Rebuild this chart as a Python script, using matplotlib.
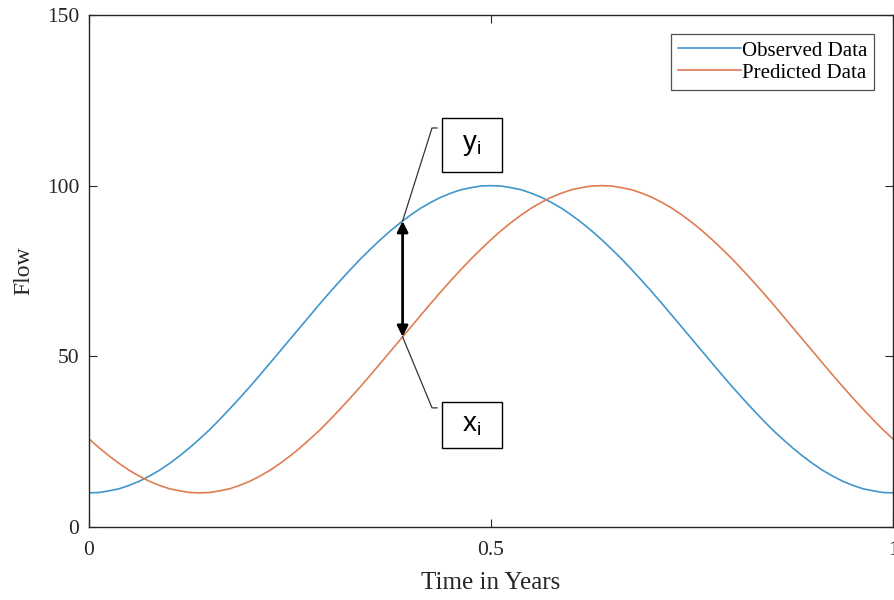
import numpy as np
import matplotlib.pyplot as plt
from matplotlib.patches import Rectangle

# Flow over one year, sampled every 0.0125 years
time_years = np.round(np.linspace(0, 1, 81), 4)
observed = [10.0, 10.1, 10.6, 11.2, 12.2, 13.4, 14.9, 16.6, 18.6, 20.8,
            23.2, 25.8, 28.5, 31.5, 34.6, 37.8, 41.1, 44.5, 48.0, 51.5,
            55.0, 58.5, 62.0, 65.5, 68.9, 72.2, 75.4, 78.5, 81.4, 84.2,
            86.8, 89.2, 91.4, 93.4, 95.1, 96.6, 97.8, 98.8, 99.4, 99.9,
            100.0, 99.9, 99.4, 98.8, 97.8, 96.6, 95.1, 93.4, 91.4, 89.2,
            86.8, 84.2, 81.4, 78.5, 75.4, 72.2, 68.9, 65.5, 62.0, 58.5,
            55.0, 51.5, 48.0, 44.5, 41.1, 37.8, 34.6, 31.5, 28.5, 25.8,
            23.2, 20.8, 18.6, 16.6, 14.9, 13.4, 12.2, 11.2, 10.6, 10.1, 10.0]
predicted = [25.8, 23.2, 20.8, 18.6, 16.6, 14.9, 13.4, 12.2, 11.2, 10.6,
             10.1, 10.0, 10.1, 10.6, 11.2, 12.2, 13.4, 14.9, 16.6, 18.6,
             20.8, 23.2, 25.8, 28.5, 31.5, 34.6, 37.8, 41.1, 44.5, 48.0,
             51.5, 55.0, 58.5, 62.0, 65.5, 68.9, 72.2, 75.4, 78.5, 81.4,
             84.2, 86.8, 89.2, 91.4, 93.4, 95.1, 96.6, 97.8, 98.8, 99.4,
             99.9, 100.0, 99.9, 99.4, 98.8, 97.8, 96.6, 95.1, 93.4, 91.4,
             89.2, 86.8, 84.2, 81.4, 78.5, 75.4, 72.2, 68.9, 65.5, 62.0,
             58.5, 55.0, 51.5, 48.0, 44.5, 41.1, 37.8, 34.6, 31.5, 28.5, 25.8]
series_labels = ['Observed Data', 'Predicted Data']
x_ticks = [0, 0.5, 1]
y_ticks = [0, 50, 100, 150]

# time at which the residual is marked
t_i = 0.39

plt.rcParams['font.family'] = ['Liberation Serif', 'DejaVu Serif']
plt.rcParams['mathtext.fontset'] = 'custom'
plt.rcParams['mathtext.rm'] = 'Liberation Sans'

fig = plt.figure(figsize=(8.94, 6), dpi=100)
ax = fig.add_axes([0.0996, 0.1217, 0.8993, 0.8533])

ax.plot(time_years, observed, color='#4196cb', lw=1.2, label=series_labels[0])
ax.plot(time_years, predicted, color='#df7d52', lw=1.2, label=series_labels[1])

ax.set_xlim(0, 1)
ax.set_ylim(0, 150)
ax.set_xticks(x_ticks)
ax.set_xticklabels(['0', '0.5', '1'])
ax.set_yticks(y_ticks)
ax.tick_params(direction='in', top=True, right=True, length=6, width=0.8,
               labelsize=15.5, colors='#262626')
ax.tick_params(axis='y', pad=7)
ax.tick_params(axis='x', pad=10)
for s in ax.spines.values():
    s.set_color('#262626')
    s.set_linewidth(1.0)

ax.set_xlabel('Time in Years', fontsize=18, color='#262626', labelpad=9)
ax.set_ylabel('Flow', fontsize=17, color='#262626', labelpad=9)

leg = ax.legend(loc='upper right', fontsize=15, frameon=True, fancybox=False,
                handlelength=3.0, handletextpad=0.05, borderpad=0.35,
                labelspacing=0.12, borderaxespad=0.9)
leg.get_frame().set_edgecolor('#262626')
leg.get_frame().set_linewidth(0.9)

# residual arrow between the two curves
y_obs = np.interp(t_i, time_years, observed)
y_pred = np.interp(t_i, time_years, predicted)
ax.annotate('', xy=(t_i, y_pred), xytext=(t_i, y_obs),
            arrowprops=dict(arrowstyle='<|-|>', color='black', lw=2,
                            mutation_scale=16, shrinkA=0, shrinkB=0))

# leader lines to the labels
ax.plot([t_i, 0.4266, 0.4328], [y_obs, 116.9, 116.9], color='#333333', lw=0.9)
ax.plot([t_i, 0.4266, 0.4328], [y_pred, 34.9, 34.9], color='#333333', lw=0.9)

# label boxes
for (bx, by, bw, bh), txt in [((0.4391, 104.0, 0.0746, 15.8), r'$\mathrm{y_i}$'),
                              ((0.4391, 23.1, 0.0746, 13.5), r'$\mathrm{x_i}$')]:
    ax.add_patch(Rectangle((bx, by), bw, bh, fc='white', ec='black', lw=1.0, zorder=4))
    ax.text(bx + bw / 2, by + bh / 2, txt, fontsize=20, ha='center', va='center', zorder=5)

fig.savefig('out.png', dpi=100)
